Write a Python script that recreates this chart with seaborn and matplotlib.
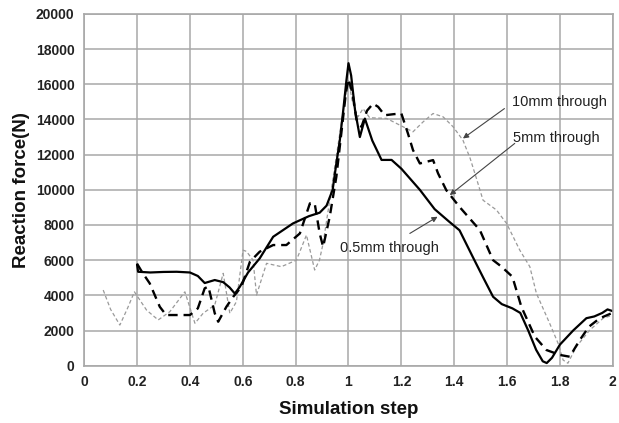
import matplotlib
matplotlib.use("Agg")
import matplotlib.pyplot as plt
import seaborn as sns
import pandas as pd

# ---- data ----
x_05 = [0.2, 0.204, 0.25, 0.3, 0.35, 0.4, 0.43, 0.456, 0.494, 0.526, 0.55, 0.57, 0.589, 0.62, 0.664,
        0.715, 0.79, 0.85, 0.891, 0.917, 0.94, 0.954, 0.967, 0.98, 0.992, 1.0, 1.01, 1.025, 1.043, 1.062,
        1.09, 1.125, 1.163, 1.2, 1.27, 1.326, 1.38, 1.42, 1.47, 1.51, 1.547, 1.58, 1.62, 1.65, 1.68, 1.71,
        1.735, 1.75, 1.77, 1.8, 1.85, 1.9, 1.93, 1.96, 1.98, 2.0]
y_05 = [5750, 5340, 5300, 5330, 5340, 5300, 5100, 4700, 4870, 4750, 4450, 4100, 4490, 5300, 6100,
        7330, 8090, 8500, 8700, 9100, 10000, 11500, 12800, 14500, 16200, 17200, 16500, 14500, 13000, 14050,
        12800, 11700, 11700, 11200, 10000, 8900, 8200, 7700, 6190, 5000, 3920, 3500, 3260, 3000, 2000, 900,
        250, 150, 450, 1200, 2000, 2700, 2800, 3000, 3200, 3100]

x_5 = [0.2, 0.22, 0.248, 0.286, 0.31, 0.35, 0.4, 0.43, 0.456, 0.47, 0.494, 0.507, 0.538, 0.564, 0.595,
       0.627, 0.664, 0.715, 0.765, 0.816, 0.854, 0.872, 0.891, 0.904, 0.929, 0.954, 0.975, 0.99, 1.0,
       1.015, 1.03, 1.049, 1.07, 1.093, 1.112, 1.137, 1.17, 1.2, 1.225, 1.244, 1.27, 1.32, 1.339, 1.37,
       1.42, 1.497, 1.547, 1.579, 1.62, 1.654, 1.705, 1.749, 1.8, 1.837, 1.875, 1.91, 1.95, 1.995]
y_5 = [5800, 5300, 4680, 3350, 2880, 2880, 2880, 3260, 4400, 4500, 2980, 2500, 3350, 3920, 4490,
       5910, 6480, 6860, 6860, 7520, 9230, 9230, 7520, 6760, 8470, 10740, 13500, 15500, 16300,
       15500, 14000, 13580, 14500, 14900, 14720, 14240, 14300, 14340, 13200, 12260, 11500, 11690, 10930, 9980,
       9030, 7710, 6000, 5630, 5060, 3350, 1650, 890, 610, 510, 1460, 2220, 2690, 2980]

x_10 = [0.072, 0.1, 0.135, 0.165, 0.19, 0.236, 0.28, 0.324, 0.381, 0.419, 0.45, 0.494, 0.526, 0.551,
        0.576, 0.601, 0.614, 0.639, 0.652, 0.69, 0.746, 0.803, 0.841, 0.872, 0.89, 0.904, 0.929, 0.96,
        0.985, 1.0, 1.015, 1.036, 1.055, 1.08, 1.144, 1.194, 1.244, 1.282, 1.32, 1.358, 1.396, 1.433,
        1.46, 1.484, 1.509, 1.56, 1.598, 1.648, 1.686, 1.711, 1.761, 1.793, 1.812, 1.83, 1.862, 1.913,
        1.963, 2.0]
y_10 = [4300, 3200, 2310, 3300, 4200, 3160, 2600, 3070, 4200, 2410, 2980, 3450, 5250, 2980,
        3640, 6570, 6500, 6000, 4020, 5820, 5630, 6000, 7430, 5440, 6000, 6950, 9410, 12500,
        15000, 16200, 15000, 14150, 14620, 14100, 14060, 13680, 13300, 13860, 14340, 14150, 13580, 12820,
        11800, 10650, 9410, 8850, 8090, 6570, 5630, 4110, 2410, 1270, 320, 140, 1080, 2030,
        2690, 2880]

x_ticks = [0, 0.2, 0.4, 0.6, 0.8, 1, 1.2, 1.4, 1.6, 1.8, 2]
x_tick_labels = ["0", "0.2", "0.4", "0.6", "0.8", "1", "1.2", "1.4", "1.6", "1.8", "2"]
y_ticks = [0, 2000, 4000, 6000, 8000, 10000, 12000, 14000, 16000, 18000, 20000]

# ---- style ----
sns.set_style("whitegrid", {"grid.color": "#a8a8a8", "axes.edgecolor": "#a8a8a8"})
plt.rcParams["font.family"] = ["Liberation Sans", "DejaVu Sans"]

fig = plt.figure(figsize=(6.19, 4.23), dpi=100)
ax = fig.add_axes([0.136, 0.1355, 0.854, 0.8315])

df10 = pd.DataFrame({"x": x_10, "y": y_10})
df5 = pd.DataFrame({"x": x_5, "y": y_5})
df05 = pd.DataFrame({"x": x_05, "y": y_05})

sns.lineplot(data=df10, x="x", y="y", ax=ax, color="#9a9a9a", lw=0.9, sort=False)
ax.lines[-1].set_dashes((3, 2))
sns.lineplot(data=df5, x="x", y="y", ax=ax, color="black", lw=1.7, sort=False)
ax.lines[-1].set_dashes((4, 2.5))
sns.lineplot(data=df05, x="x", y="y", ax=ax, color="black", lw=1.6, sort=False)

ax.set_xlim(0, 2)
ax.set_ylim(0, 20000)
ax.set_xticks(x_ticks)
ax.set_xticklabels(x_tick_labels, fontweight="bold", fontsize=10)
ax.set_yticks(y_ticks)
ax.set_yticklabels([str(v) for v in y_ticks], fontweight="bold", fontsize=10)
ax.grid(True, color="#a8a8a8", lw=1.1)
for s in ax.spines.values():
    s.set_color("#a8a8a8")
    s.set_linewidth(1.2)
ax.tick_params(axis="both", length=4, width=1, color="#a8a8a8", pad=3, labelcolor="#222222")

ax.set_xlabel("Simulation step", fontsize=13.5, fontweight="bold", labelpad=8, color="#111111")
ax.set_ylabel("Reaction force(N)", fontsize=13.5, fontweight="bold", labelpad=4, color="#111111")

arrow = dict(arrowstyle="-|>", color="#444444", lw=0.8, mutation_scale=8, shrinkA=0, shrinkB=0)
ax.text(1.618, 14980, "10mm through", fontsize=10.5, va="center", ha="left", color="#222222")
ax.annotate("", xy=(1.433, 12920), xytext=(1.59, 14620), arrowprops=arrow)
ax.text(1.621, 12940, "5mm through", fontsize=10.5, va="center", ha="left", color="#222222")
ax.annotate("", xy=(1.383, 9700), xytext=(1.629, 12640), arrowprops=arrow)
ax.text(0.967, 6690, "0.5mm through", fontsize=10.5, va="center", ha="left", color="#222222")
ax.annotate("", xy=(1.337, 8470), xytext=(1.232, 7520), arrowprops=arrow)

fig.savefig("out.png", dpi=100)
